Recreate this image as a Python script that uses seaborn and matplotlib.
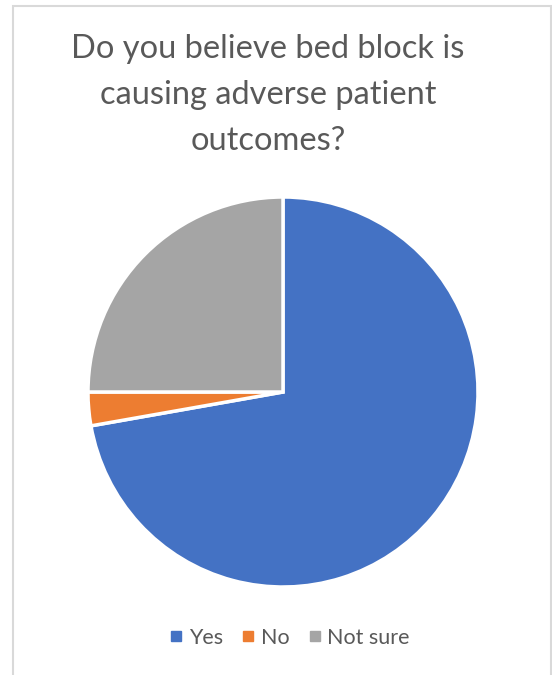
import matplotlib
matplotlib.use("Agg")
import matplotlib.pyplot as plt
from matplotlib.patches import Rectangle
import seaborn as sns

# Survey responses
categories = ["Yes", "No", "Not sure"]
responses = [26, 1, 9]
colors = ["#4472C4", "#ED7D31", "#A5A5A5"]
title_lines = ["Do you believe bed block is", "causing adverse patient", "outcomes?"]

sns.set_style("white")
plt.rcParams["font.family"] = ["Lato", "DejaVu Sans"]

W, H = 552, 675
fig = plt.figure(figsize=(W / 100, H / 100), dpi=100)
fig.patch.set_facecolor("white")

# chart frame
fig.patches.append(Rectangle((13 / W, -0.05), (551 - 13) / W, 1.05 - 6 / H,
                             transform=fig.transFigure, fill=False,
                             edgecolor="#d9d9d9", linewidth=1.5))

# pie area
cx, cy, r = 283, 392, 195
ax = fig.add_axes([(cx - r) / W, (H - cy - r) / H, 2 * r / W, 2 * r / H])
ax.pie(responses, colors=colors, startangle=90, counterclock=False,
       wedgeprops=dict(edgecolor="white", linewidth=2.5))
ax.set_xlim(-1, 1)
ax.set_ylim(-1, 1)
ax.set_aspect("equal")
ax.axis("off")

# title
for i, line in enumerate(title_lines):
    fig.text(268 / W, 1 - (49 + i * 46) / H, line, ha="center", va="center",
             fontsize=23.5, color="#595959")

# legend
handles = [plt.Line2D([], [], marker="s", linestyle="", markersize=7,
                      color=c) for c in colors]
fig.legend(handles, categories, loc="center", bbox_to_anchor=(290 / W, 1 - 638 / H),
           ncol=3, frameon=False, fontsize=15.5, labelcolor="#595959",
           handletextpad=0.3, columnspacing=0.85, handlelength=0.6)

fig.savefig("out.png", dpi=100)
